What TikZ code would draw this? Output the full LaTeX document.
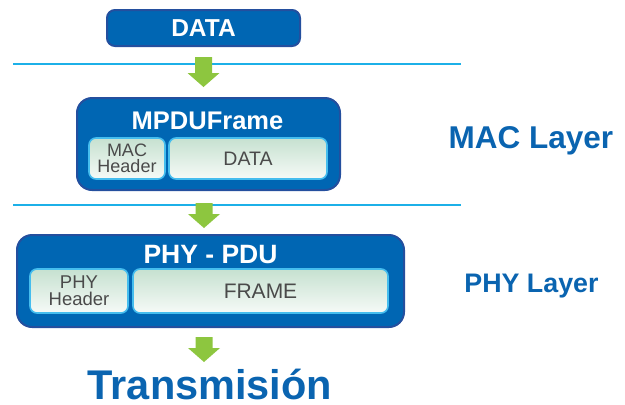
\documentclass[tikz,border=0pt]{standalone}
\usepackage{fontspec}
\setmainfont{Liberation Sans}
\newcommand\myfs[1]{\fontsize{#1}{#1}\selectfont}
\definecolor{boxblue}{HTML}{0066B3}
\definecolor{boxedge}{HTML}{244F9E}
\definecolor{sepblue}{HTML}{1CB0E8}
\definecolor{arrowgreen}{HTML}{8DC63F}
\definecolor{innertop}{HTML}{C6E1D0}
\definecolor{innerbot}{HTML}{F6FAF7}
\definecolor{inneredge}{HTML}{45BDEE}
\definecolor{labelblue}{HTML}{0A64B0}
\definecolor{innertext}{HTML}{4A4A4A}
\tikzset{
  outerbox/.style={draw=boxedge, fill=boxblue, line width=2pt, rounded corners=15pt, inner sep=0pt},
  innerbox/.style={draw=inneredge, top color=innertop, bottom color=innerbot, line width=1.6pt, rounded corners=7pt, inner sep=0pt, text=innertext},
  sepline/.style={draw=sepblue, line width=2pt},
  title/.style={text=white, font=\bfseries\myfs{25.5}, anchor=base, inner sep=0pt},
  layerlabel/.style={text=labelblue, font=\bfseries, anchor=base, inner sep=0pt},
  pics/garrow/.style={code={
    \fill[arrowgreen] (-8.5,-#1) -- (8.5,-#1) -- (8.5,-14) -- (16,-14) -- (0,0) -- (-16,-14) -- (-8.5,-14) -- cycle;
  }}
}
\begin{document}
\begin{tikzpicture}[x=1pt,y=-1pt]
\useasboundingbox (0,0) rectangle (625,405);
% separator lines
\coordinate (l1a) at (13,64); \coordinate (l1b) at (461,64);
\coordinate (l2a) at (13,205); \coordinate (l2b) at (461,205);
\draw[sepline] (l1a) -- (l1b);
\draw[sepline] (l2a) -- (l2b);
% top data box
\node[outerbox, rounded corners=8pt, minimum width=193pt, minimum height=36pt, text=white, font=\bfseries\myfs{24.5}] (data) at (203.5,28) {DATA};
% MPDU frame
\node[outerbox, minimum width=263pt, minimum height=92pt] (mpdu) at (208.5,144) {};
\node[title] (mpdutitle) at (207.5,129) {MPDUFrame};
\node[innerbox, minimum width=76pt, minimum height=41pt, align=center, font=\fontsize{18}{16.5}\selectfont] (machdr) at (127,158.5) {MAC\\Header};
\node[innerbox, minimum width=158pt, minimum height=41pt, font=\myfs{19.5}] (macdata) at (248,158.5) {DATA};
% PHY PDU
\node[outerbox, minimum width=387pt, minimum height=92pt] (phy) at (210.5,281) {};
\node[title, font=\bfseries\myfs{26.5}] (phytitle) at (210.5,263) {PHY - PDU};
\node[innerbox, minimum width=98pt, minimum height=44pt, align=center, font=\fontsize{18.5}{17}\selectfont] (phyhdr) at (79,291) {PHY\\Header};
\node[innerbox, minimum width=255pt, minimum height=44pt, font=\myfs{21}] (frame) at (260.5,291) {FRAME};
% arrows
\pic at (203.5,87) {garrow=30};
\pic at (204,228) {garrow=25};
\pic at (204,362) {garrow=25};
% labels
\node[layerlabel, font=\bfseries\myfs{31.5}] (maclayer) at (531,148) {MAC Layer};
\node[layerlabel, font=\bfseries\myfs{26.8}] (phylayer) at (531.5,292.5) {PHY Layer};
\node[layerlabel, font=\bfseries\myfs{41.5}] (tx) at (210,399) {Transmisión};
\end{tikzpicture}
\end{document}
